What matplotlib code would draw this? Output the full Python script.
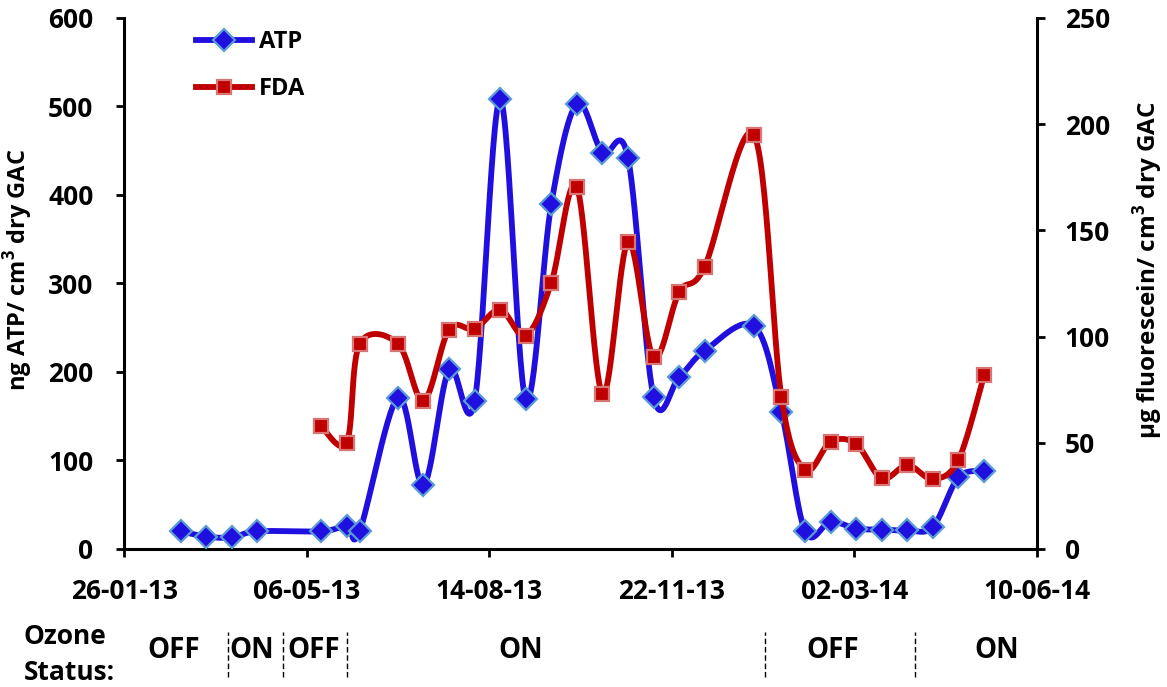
import numpy as np
import pandas as pd
import matplotlib
matplotlib.use("Agg")
import matplotlib.pyplot as plt
import matplotlib.dates as mdates
import matplotlib.transforms as mtransforms

plt.rcParams['font.family'] = ['Open Sans', 'DejaVu Sans']
plt.rcParams['font.weight'] = 'bold'
plt.rcParams['mathtext.fontset'] = 'custom'
plt.rcParams['mathtext.bf'] = 'Open Sans:bold'
plt.rcParams['mathtext.rm'] = 'Open Sans:bold'

# ATP (left axis) sampling dates and values
atp_dates = ['2013-02-26', '2013-03-12', '2013-03-26', '2013-04-09', '2013-05-14', '2013-05-28',
             '2013-06-04', '2013-06-25', '2013-07-09', '2013-07-23', '2013-08-06', '2013-08-20',
             '2013-09-03', '2013-09-17', '2013-10-01', '2013-10-15', '2013-10-29', '2013-11-12',
             '2013-11-26', '2013-12-10', '2014-01-06', '2014-01-21', '2014-02-03', '2014-02-17',
             '2014-03-03', '2014-03-17', '2014-03-31', '2014-04-14', '2014-04-28', '2014-05-12']
atp_values = [20, 14, 13, 20, 20, 26, 20, 171, 72, 203, 167, 508, 169, 390, 503,
              448, 442, 172, 194, 224, 252, 155, 20, 31, 23, 22, 21, 25, 81, 88]

# FDA (right axis)
fda_dates = ['2013-05-14', '2013-05-28', '2013-06-04', '2013-06-25', '2013-07-09', '2013-07-23',
             '2013-08-06', '2013-08-20', '2013-09-03', '2013-09-17', '2013-10-01', '2013-10-15',
             '2013-10-29', '2013-11-12', '2013-11-26', '2013-12-10', '2014-01-06', '2014-01-21',
             '2014-02-03', '2014-02-17', '2014-03-03', '2014-03-17', '2014-03-31', '2014-04-14',
             '2014-04-28', '2014-05-12']
fda_values = [57.7, 50.1, 96.5, 96.7, 69.8, 103.3, 103.6, 112.7, 100.5, 125.3, 170.4, 73.0,
              144.5, 90.2, 120.9, 132.9, 195, 71.6, 37.3, 50.5, 49.4, 33.2, 39.5, 32.9, 42, 81.7]

# x axis ticks
tick_dates = ['2013-01-26', '2013-05-06', '2013-08-14', '2013-11-22', '2014-03-02', '2014-06-10']

# ozone status bands
status_labels = ['OFF', 'ON', 'OFF', 'ON', 'OFF', 'ON']
status_label_dates = ['2013-02-22', '2013-04-06', '2013-05-10', '2013-08-31', '2014-02-18', '2014-05-19']
status_breaks = ['2013-03-24', '2013-04-23', '2013-05-28', '2014-01-12', '2014-04-04']


def to_num(ds):
    return mdates.date2num(pd.to_datetime(ds).to_pydatetime())


def smooth(xs, ys, sx, sy, n=30):
    # Catmull-Rom curve through the points (computed in roughly screen-scaled units)
    P = np.column_stack([np.asarray(xs) * sx, np.asarray(ys) * sy])
    out = [P[0]]
    t = np.linspace(0, 1, n)[1:, None]
    for i in range(len(P) - 1):
        p0 = P[i - 1] if i > 0 else P[i]
        p1, p2 = P[i], P[i + 1]
        p3 = P[i + 2] if i + 2 < len(P) else P[i + 1]
        c1 = p1 + (p2 - p0) / 6
        c2 = p2 - (p3 - p1) / 6
        seg = (1 - t) ** 3 * p1 + 3 * (1 - t) ** 2 * t * c1 + 3 * (1 - t) * t ** 2 * c2 + t ** 3 * p2
        out.extend(seg)
    out = np.array(out)
    return out[:, 0] / sx, out[:, 1] / sy


atp_x = to_num(atp_dates)
fda_x = to_num(fda_dates)
ticks = to_num(tick_dates)

blue = '#2010E0'
red = '#C00000'

fig = plt.figure(figsize=(11.67, 6.87), dpi=100)
ax = fig.add_axes([0.1063, 0.2009, 0.7823, 0.7729])
ax2 = ax.twinx()

px_day = 913.5 / 500
sx, sy = smooth(atp_x, atp_values, px_day, 530 / 600)
ax.plot(sx, sy, color=blue, lw=4.2, solid_capstyle='round', zorder=2)
ax.plot(atp_x, atp_values, ls='none', marker='D', ms=11, mfc=blue, mec='#5B9BD5', mew=1.6, zorder=3)

fx, fy = smooth(fda_x, fda_values, px_day, 530 / 250)
ax2.plot(fx, fy, color=red, lw=4.2, solid_capstyle='round', zorder=2)
ax2.plot(fda_x, fda_values, ls='none', marker='s', ms=10, mfc=red, mec='#D87575', mew=1.6, zorder=3)

ax.set_xlim(ticks[0], ticks[-1])
ax.set_ylim(0, 600)
ax2.set_ylim(0, 250)
ax.set_xticks(ticks)
ax.xaxis.set_major_formatter(mdates.DateFormatter('%d-%m-%y'))
ax.set_yticks(range(0, 601, 100))
ax2.set_yticks(range(0, 251, 50))

for a in (ax, ax2):
    for s in a.spines.values():
        s.set_linewidth(2.2)
    a.spines['top'].set_visible(False)
ax.spines['right'].set_visible(False)
ax2.spines['left'].set_visible(False)
ax2.spines['bottom'].set_visible(False)

ax.tick_params(axis='x', direction='out', length=6, width=2, labelsize=19, pad=15)
ax.tick_params(axis='y', direction='out', length=6, width=2, labelsize=19, pad=16)
ax2.tick_params(axis='y', direction='out', length=6, width=2, labelsize=19, pad=14)
for lbl in ax.get_xticklabels() + ax.get_yticklabels() + ax2.get_yticklabels():
    lbl.set_fontweight('bold')

ax.set_ylabel('ng ATP/ cm$^{\\mathbf{3}}$ dry GAC', fontsize=17, fontweight='bold')
ax2.set_ylabel('\u00b5g fluorescein/ cm$^{\\mathbf{3}}$ dry GAC', fontsize=17.5, fontweight='bold')
ax.yaxis.set_label_coords(-0.097, 0.525)
ax2.yaxis.set_label_coords(1.103, 0.525)

h1 = plt.Line2D([], [], color=blue, lw=4.2, marker='D', ms=11, mfc=blue, mec='#5B9BD5', mew=1.6)
h2 = plt.Line2D([], [], color=red, lw=4.2, marker='s', ms=10, mfc=red, mec='#D87575', mew=1.6)
ax2.legend([h1, h2], ['ATP', 'FDA'], loc='upper left', bbox_to_anchor=(0.055, 1.017), frameon=False,
           prop={'size': 17, 'weight': 'bold'}, handlelength=2.4, handletextpad=0.3,
           labelspacing=0.98, numpoints=1)

# ozone status row under the x axis
trans = mtransforms.blended_transform_factory(ax.transData, fig.transFigure)
fig.text(0.02, 0.073, 'Ozone', fontsize=19, fontweight='bold', ha='left', va='center')
fig.text(0.02, 0.021, 'Status:', fontsize=19, fontweight='bold', ha='left', va='center')
for lab, d in zip(status_labels, to_num(status_label_dates)):
    ax.text(d, 0.053, lab, transform=trans, fontsize=20, fontweight='bold', ha='center', va='center',
            clip_on=False)
for d in to_num(status_breaks):
    ax.plot([d, d], [0.014, 0.08], transform=trans, color='black', lw=1, ls=(0, (4, 2)), clip_on=False)

fig.savefig('out.png', dpi=100)
